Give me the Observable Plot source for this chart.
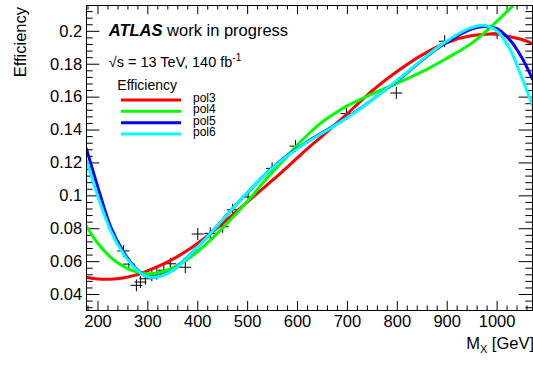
<!DOCTYPE html>
<html><head><meta charset="utf-8">
<script src="https://cdn.jsdelivr.net/npm/d3@7"></script>
<script src="https://cdn.jsdelivr.net/npm/@observablehq/plot@0.6"></script>
<style>
body{margin:0;background:#fff;}
svg{font-family:"Liberation Sans",Arial,Helvetica,sans-serif;}
</style>
</head><body><div id="chart"></div>
<script>
// ---- data ----
const massGeV = [251,262,277,285,295,308,318,332,345,375,400,425,450,470,501,549,596,698,798,895,1000];
const efficiency = [0.0665,0.0585,0.0456,0.0476,0.0496,0.0517,0.0527,0.0548,0.0587,0.0566,0.0768,0.0772,0.0812,0.0915,0.0993,0.1167,0.1302,0.1500,0.1625,0.1940,0.1990];

const pol3X = [177,200,225,250,275,300,325,350,375,400,425,450,475,500,525,550,575,600,625,650,700,750,800,850,900,950,1000,1025,1050,1071];
const pol3Y = [0.0505,0.0494,0.0493,0.0501,0.0518,0.0545,0.0577,0.0615,0.0660,0.0712,0.0770,0.0833,0.0898,0.0965,0.1030,0.1095,0.1163,0.1232,0.1300,0.1365,0.1500,0.1640,0.1757,0.1857,0.1932,0.1974,0.1982,0.1968,0.1950,0.1925];

const pol4X = [177,200,225,250,275,300,325,350,375,400,425,450,475,500,525,550,575,600,625,650,675,700,750,800,850,900,950,1000,1036];
const pol4Y = [0.0814,0.0710,0.0628,0.0573,0.0540,0.0527,0.0535,0.0562,0.0605,0.0662,0.0730,0.0805,0.0885,0.0968,0.1058,0.1145,0.1225,0.1310,0.1385,0.1450,0.1502,0.1548,0.1620,0.1685,0.1755,0.1838,0.1930,0.2062,0.2170];

const pol5X = [177,200,225,250,275,300,325,350,375,400,425,450,475,500,525,550,575,600,625,650,675,700,725,750,775,800,825,850,875,900,925,950,975,1000,1025,1050,1071];
const pol5Y = [0.1285,0.1050,0.0815,0.0665,0.0562,0.0507,0.0514,0.0548,0.0615,0.0690,0.0770,0.0855,0.0940,0.1020,0.1100,0.1172,0.1235,0.1290,0.1340,0.1385,0.1430,0.1478,0.1530,0.1585,0.1642,0.1700,0.1762,0.1825,0.1885,0.1935,0.1980,0.2015,0.2030,0.2015,0.1950,0.1838,0.1710];

const pol6X = pol5X;
const pol6Y = [0.1215,0.0995,0.0790,0.0652,0.0558,0.0508,0.0512,0.0548,0.0613,0.0690,0.0770,0.0855,0.0940,0.1022,0.1100,0.1170,0.1232,0.1287,0.1336,0.1382,0.1428,0.1476,0.1528,0.1584,0.1643,0.1703,0.1765,0.1828,0.1888,0.1942,0.1990,0.2024,0.2036,0.2002,0.1895,0.1715,0.1550];

const seriesNames = ["pol3","pol4","pol5","pol6"];
const seriesColors = ["#ff0000","#00ff00","#0000ff","#00ffff"];

const xTickValues = [200,300,400,500,600,700,800,900,1000];
const xTickLabels = ["200","300","400","500","600","700","800","900","1000"];
const yTickValues = [0.04,0.06,0.08,0.10,0.12,0.14,0.16,0.18,0.20];
const yTickLabels = ["0.04","0.06","0.08","0.1","0.12","0.14","0.16","0.18","0.2"];

const xDomain = [177, 1071];
const yDomain = [0.0303, 0.2157];

// ---- build ----
const toRows = (xs, ys) => xs.map((x, i) => ({x, y: ys[i]}));
const curves = [toRows(pol3X,pol3Y), toRows(pol4X,pol4Y), toRows(pol5X,pol5Y), toRows(pol6X,pol6Y)];
const points = massGeV.map((m, i) => ({x: m, y: efficiency[i]}));

const xMinor = d3.range(9, 54).map(i => i*20).filter(v => v % 100 !== 0 && v > xDomain[0] && v < xDomain[1]);
const yMinor = d3.range(8, 54).filter(i => i % 5 !== 0).map(i => i*0.004).filter(v => v > yDomain[0] && v < yDomain[1]);

const [X0, X1] = xDomain, [Y0, Y1] = yDomain;
const xt = 0.03*(Y1-Y0), yt = 0.03*(X1-X0);

const plusSymbol = {draw(ctx, size){ const r = Math.sqrt(size/Math.PI); ctx.moveTo(-r,0); ctx.lineTo(r,0); ctx.moveTo(0,-r); ctx.lineTo(0,r); }};

const W = 533, H = 370, ML = 86, MR = 1, MT = 5, MB = 60;

const svg = Plot.plot({
  width: W, height: H,
  marginLeft: ML, marginRight: MR, marginTop: MT, marginBottom: MB,
  x: {domain: xDomain, axis: null},
  y: {domain: yDomain, axis: null},
  style: {fontFamily: '"Liberation Sans",Arial,sans-serif', background: "#fff", color: "#000"},
  marks: [
    Plot.ruleX(xTickValues, {x: d => d, y1: Y0, y2: Y0 + xt, stroke: "#000"}),
    Plot.ruleX(xMinor, {x: d => d, y1: Y0, y2: Y0 + xt/2, stroke: "#000"}),
    Plot.ruleX(xTickValues, {x: d => d, y1: Y1, y2: Y1 - xt, stroke: "#000"}),
    Plot.ruleX(xMinor, {x: d => d, y1: Y1, y2: Y1 - xt/2, stroke: "#000"}),
    Plot.ruleY(yTickValues, {y: d => d, x1: X0, x2: X0 + yt, stroke: "#000"}),
    Plot.ruleY(yMinor, {y: d => d, x1: X0, x2: X0 + yt/2, stroke: "#000"}),
    Plot.ruleY(yTickValues, {y: d => d, x1: X1, x2: X1 - yt, stroke: "#000"}),
    Plot.ruleY(yMinor, {y: d => d, x1: X1, x2: X1 - yt/2, stroke: "#000"}),
    Plot.text(xTickValues, {x: d => d, y: Y0, text: (d, i) => xTickLabels[i], dy: 11, fontSize: 16.5, lineAnchor: "middle", fill: "#000"}),
    Plot.text(yTickValues, {x: X0, y: d => d, text: (d, i) => yTickLabels[i], dx: -4.3, fontSize: 16.5, textAnchor: "end", lineAnchor: "middle", fill: "#000"}),
    Plot.dot(points, {x: "x", y: "y", r: 6, symbol: plusSymbol, stroke: "#000", strokeWidth: 1, fill: "none"}),
    ...curves.map((c, i) => Plot.line(c, {x: "x", y: "y", stroke: seriesColors[i], strokeWidth: 3, curve: "catmull-rom", clip: true})),
    Plot.frame({stroke: "#000", strokeWidth: 1})
  ]
});
document.getElementById("chart").appendChild(svg);

// ---- annotations ----
const s = d3.select(svg);
const ann = s.append("g").attr("fill", "#000").attr("text-anchor", "start")
  .style("font-family", '"Liberation Sans",Arial,sans-serif');

const t1 = ann.append("text").attr("x", 108.7).attr("y", 35.7).attr("font-size", 16.5);
t1.append("tspan").attr("font-weight", "bold").attr("font-style", "italic").text("ATLAS");
t1.append("tspan").text(" work in progress");

const t2 = ann.append("text").attr("x", 108.7).attr("y", 66.7).attr("font-size", 14.5);
t2.append("tspan").text("√s = 13 TeV, 140 fb");
t2.append("tspan").attr("font-size", 10).attr("dy", -6).text("-1");

ann.append("text").attr("transform", "translate(25.5,7) rotate(-90)").attr("text-anchor", "end")
  .attr("font-size", 16.5).text("Efficiency");

const t3 = ann.append("text").attr("x", 534).attr("y", 349).attr("text-anchor", "end").attr("font-size", 16.5);
t3.append("tspan").text("M");
t3.append("tspan").attr("font-size", 11).attr("dy", 4).text("X");
t3.append("tspan").attr("dy", -4).text(" [GeV]");

const lg = ann.append("g");
lg.append("text").attr("x", 117.3).attr("y", 90).attr("font-size", 14).text("Efficiency");
const legY = [100, 111.3, 122.7, 134];
seriesNames.forEach((n, i) => {
  lg.append("line").attr("x1", 121).attr("x2", 181).attr("y1", legY[i]).attr("y2", legY[i])
    .attr("stroke", seriesColors[i]).attr("stroke-width", 3);
  lg.append("text").attr("x", 193).attr("y", legY[i] + 2).attr("font-size", 12).text(n);
});
</script>
</body></html>
